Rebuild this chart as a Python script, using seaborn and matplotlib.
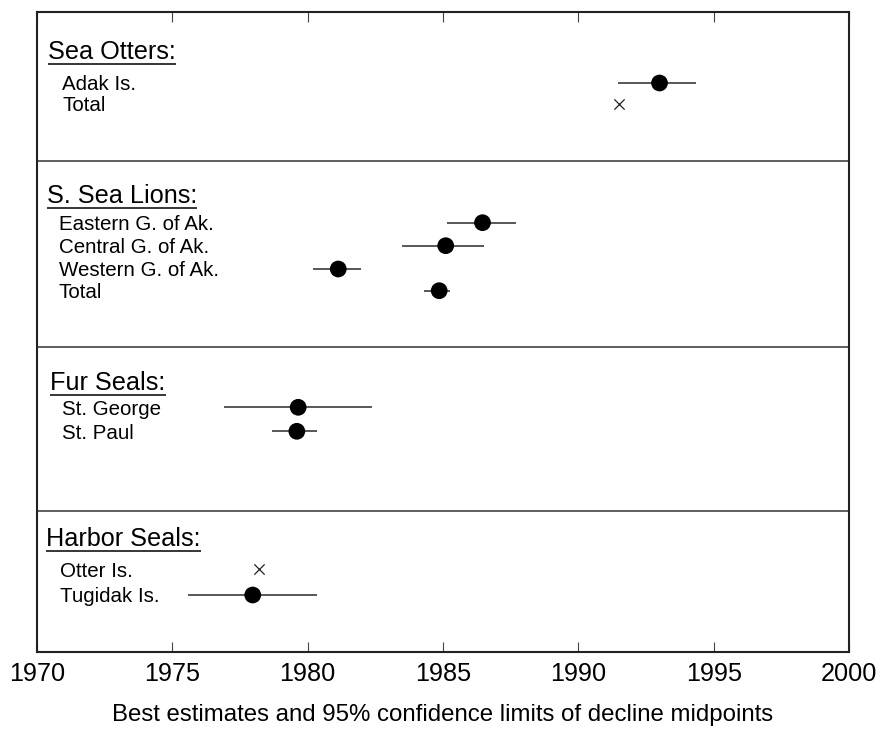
import numpy as np
import pandas as pd
import matplotlib
matplotlib.use("Agg")
import matplotlib.pyplot as plt
import matplotlib.transforms as mtransforms
import seaborn as sns

# ---------------- data ----------------
groups = ["Sea Otters:", "S. Sea Lions:", "Fur Seals:", "Harbor Seals:"]
sites = ["Adak Is.", "Total",
         "Eastern G. of Ak.", "Central G. of Ak.", "Western G. of Ak.", "Total",
         "St. George", "St. Paul",
         "Otter Is.", "Tugidak Is."]
site_group = [0, 0, 1, 1, 1, 1, 2, 2, 3, 3]
midpoint = [1993.0, 1991.5, 1986.46, 1985.10, 1981.13, 1984.86, 1979.65, 1979.60, 1978.19, 1977.97]
ci_low = [1991.47, np.nan, 1985.13, 1983.50, 1980.20, 1984.30, 1976.92, 1978.70, np.nan, 1975.59]
ci_high = [1994.33, np.nan, 1987.68, 1986.50, 1981.96, 1985.26, 1982.36, 1980.33, np.nan, 1980.33]
has_ci = ["dot", "x", "dot", "dot", "dot", "dot", "dot", "dot", "x", "dot"]
year_ticks = [1970, 1975, 1980, 1985, 1990, 1995, 2000]
xlabel = "Best estimates and 95% confidence limits of decline midpoints"

# ---------------- layout (vertical positions, pixel-like units) ----------------
row_pos = [83, 104, 222.7, 245.7, 269, 290.7, 407.3, 431.3, 569.3, 595]
heading_base = [59, 203, 390, 546]
separators = [161, 347, 511]
heading_x = [0.0135, 0.0125, 0.0165, 0.0115]   # axes fraction
label_x = [0.031, 0.027, 0.031, 0.028]

df = pd.DataFrame({"site": sites, "group": site_group, "mid": midpoint,
                   "lo": ci_low, "hi": ci_high, "kind": has_ci, "y": row_pos})

sns.set_theme(style="white")
plt.rcParams["font.family"] = ["Liberation Sans", "DejaVu Sans"]

W, H, DPI = 882, 735, 100
fig = plt.figure(figsize=(W / DPI, H / DPI), dpi=DPI)
ax = fig.add_axes([37 / W, 1 - 652 / H, (849 - 37) / W, (652 - 12) / H])

ax.set_xlim(1970, 2000)
ax.set_ylim(652, 12)

# separators
for s in separators:
    ax.axhline(s, color="#333333", lw=1.1, zorder=1)

# confidence intervals
ci = df[df["kind"] == "dot"]
ax.hlines(ci["y"], ci["lo"], ci["hi"], color="#2a2a2a", lw=1.1, zorder=2)

# point estimates
sns.scatterplot(data=df[df["kind"] == "dot"], x="mid", y="y", ax=ax,
                color="black", s=145, marker="o", edgecolor="none", zorder=3,
                legend=False)
sns.scatterplot(data=df[df["kind"] == "x"], x="mid", y="y", ax=ax,
                color="#222222", s=55, marker="x", linewidth=0.9, zorder=3,
                legend=False)

# labels
trans = mtransforms.blended_transform_factory(ax.transAxes, ax.transData)
lab_fs = 14.8
cap_off = 0.716 * lab_fs * DPI / 72 / 2
for i, row in df.iterrows():
    ax.text(label_x[row["group"]], row["y"] + cap_off, row["site"], transform=trans,
            fontsize=lab_fs, va="baseline", ha="left", color="black")

fig.canvas.draw()
renderer = fig.canvas.get_renderer()
for g, name in enumerate(groups):
    t = ax.text(heading_x[g], heading_base[g], name, transform=trans,
                fontsize=18.2, va="baseline", ha="left", color="black")
    bb = t.get_window_extent(renderer)
    inv = ax.transData.inverted()
    (x0, _), (x1, _) = inv.transform([(bb.x0, 0), (bb.x1, 0)])
    ax.plot([x0, x1], [heading_base[g] + 4.5, heading_base[g] + 4.5],
            color="black", lw=1.1, solid_capstyle="butt")

# axes styling
ax.set_xticks(year_ticks)
ax.set_xticklabels([str(y) for y in year_ticks], fontsize=18.2)
ax.set_yticks([])
ax.tick_params(axis="x", direction="in", top=True, bottom=True, length=7,
               width=0.8, color="#444444", pad=7, labelcolor="black")
ax.set_ylabel("")
ax.set_xlabel(xlabel, fontsize=17.3, labelpad=13, color="black")
for sp in ax.spines.values():
    sp.set_visible(True)
    sp.set_color("#222222")
    sp.set_linewidth(1.5)

fig.savefig("out.png", dpi=DPI)
